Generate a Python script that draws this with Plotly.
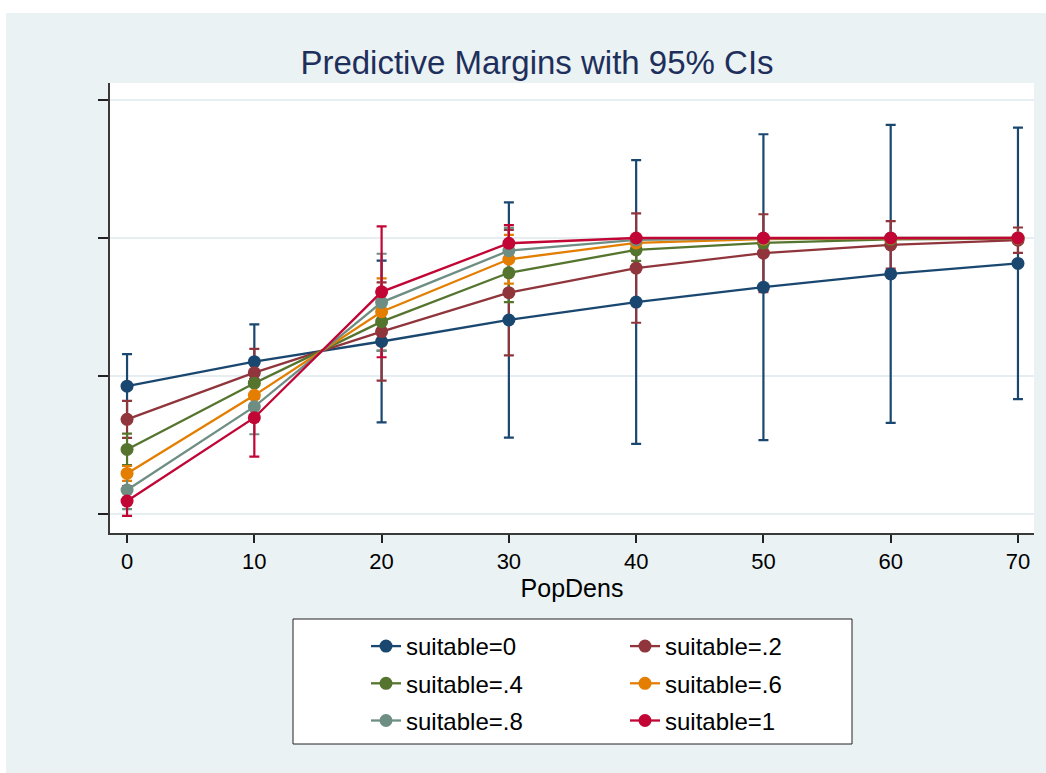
import plotly.graph_objects as go

popdens = [0, 10, 20, 30, 40, 50, 60, 70]

labels = ["suitable=0", "suitable=.2", "suitable=.4", "suitable=.6", "suitable=.8", "suitable=1"]
colors = ["#1A476F", "#90353B", "#55752F", "#E37E00", "#6E8E84", "#C10534"]

margin_s0 = [0.463, 0.552, 0.625, 0.703, 0.768, 0.822, 0.870, 0.908]
margin_s2 = [0.343, 0.512, 0.661, 0.802, 0.891, 0.945, 0.975, 0.992]
margin_s4 = [0.234, 0.474, 0.697, 0.874, 0.957, 0.982, 0.995, 0.998]
margin_s6 = [0.147, 0.430, 0.733, 0.923, 0.982, 0.996, 0.999, 1.000]
margin_s8 = [0.087, 0.389, 0.767, 0.954, 0.993, 0.999, 1.000, 1.000]
margin_s10 = [0.047, 0.349, 0.805, 0.981, 1.000, 1.000, 1.000, 1.000]

ci_s0 = [0.116, 0.135, 0.293, 0.426, 0.514, 0.554, 0.540, 0.492]
ci_s2 = [0.067, 0.086, 0.178, 0.227, 0.198, 0.141, 0.086, 0.046]
ci_s4 = [0.057, 0.080, 0.105, 0.106, 0.040, 0.015, 0.006, 0.002]
ci_s6 = [0.027, 0.075, 0.121, 0.088, 0.020, 0.005, 0.002, 0.001]
ci_s8 = [0.069, 0.100, 0.176, 0.083, 0.010, 0.002, 0.000, 0.000]
ci_s10 = [0.054, 0.141, 0.237, 0.066, 0.003, 0.000, 0.000, 0.000]

margins = [margin_s0, margin_s2, margin_s4, margin_s6, margin_s8, margin_s10]
cis = [ci_s0, ci_s2, ci_s4, ci_s6, ci_s8, ci_s10]

FONT = "Liberation Sans, Arial, sans-serif"

fig = go.Figure()

# confidence interval caps first (drawn beneath the lines/markers)
for lab, col, m, c in zip(labels, colors, margins, cis):
    fig.add_trace(go.Scatter(
        x=popdens, y=m, mode="markers",
        marker=dict(size=1, color=col, opacity=0),
        error_y=dict(type="data", array=c, symmetric=True, color=col,
                     thickness=2.2, width=5),
        showlegend=False, hoverinfo="skip",
    ))

legend_of = ["legend", "legend2", "legend", "legend2", "legend", "legend2"]
for i, (lab, col, m) in enumerate(zip(labels, colors, margins)):
    fig.add_trace(go.Scatter(
        x=popdens, y=m, mode="lines+markers", name=lab,
        line=dict(color=col, width=2.3),
        marker=dict(size=13, color=col),
        legend=legend_of[i], legendgroup=lab,
    ))

W, H = 1046, 773
L, R, T, B = 110, 12, 83, 240
pw, ph = W - L - R, H - T - B

def px(xp):
    return (xp - L) / pw

def py(yp):
    return (H - B - yp) / ph

shapes = [
    # white frame strips around the light background
    dict(type="rect", xref="paper", yref="paper", x0=px(-20), x1=px(W + 20),
         y0=py(13), y1=py(-20), fillcolor="white", line=dict(width=0), layer="below"),
    dict(type="rect", xref="paper", yref="paper", x0=px(-20), x1=px(6),
         y0=py(H + 20), y1=py(-20), fillcolor="white", line=dict(width=0), layer="below"),
    # legend frame
    dict(type="rect", xref="paper", yref="paper", x0=px(293), x1=px(852),
         y0=py(744), y1=py(619), fillcolor="white",
         line=dict(color="#222222", width=1), layer="below"),
]

fig.update_layout(
    width=W, height=H,
    margin=dict(l=L, r=R, t=T, b=B),
    paper_bgcolor="#EAF2F3",
    plot_bgcolor="white",
    font=dict(family=FONT, color="black", size=22),
    title=dict(text="Predictive Margins with 95% CIs", x=537 / W,
               xanchor="center", y=1 - 62 / H, yanchor="middle",
               font=dict(size=33, color="#1E2F5C", family=FONT)),
    xaxis=dict(range=[-1.34, 71.26], tickvals=popdens, ticks="outside", ticklen=8,
               tickwidth=1.5, tickcolor="#222222", showgrid=False, zeroline=False,
               showline=True, linecolor="#3a3a3a", linewidth=1.5,
               tickfont=dict(size=22, family=FONT),
               title=dict(text="PopDens", font=dict(size=25, family=FONT), standoff=6)),
    yaxis=dict(range=[-0.0688, 1.5616], tickvals=[0, 0.5, 1, 1.5], showticklabels=False,
               ticks="outside", ticklen=10, tickwidth=1.5, tickcolor="#222222",
               showgrid=True, gridcolor="#E6EEF1", gridwidth=1.6, zeroline=False,
               showline=True, linecolor="#3a3a3a", linewidth=1.5),
    legend=dict(x=px(366), xanchor="left", y=py(624), yanchor="top",
                orientation="v", bgcolor="rgba(0,0,0,0)", borderwidth=0,
                tracegroupgap=3, font=dict(size=24, family=FONT, color="black")),
    legend2=dict(x=px(625), xanchor="left", y=py(624), yanchor="top",
                 orientation="v", bgcolor="rgba(0,0,0,0)", borderwidth=0,
                 tracegroupgap=3, font=dict(size=24, family=FONT, color="black")),
    shapes=shapes,
    showlegend=True,
)

fig.write_html("out.html")
